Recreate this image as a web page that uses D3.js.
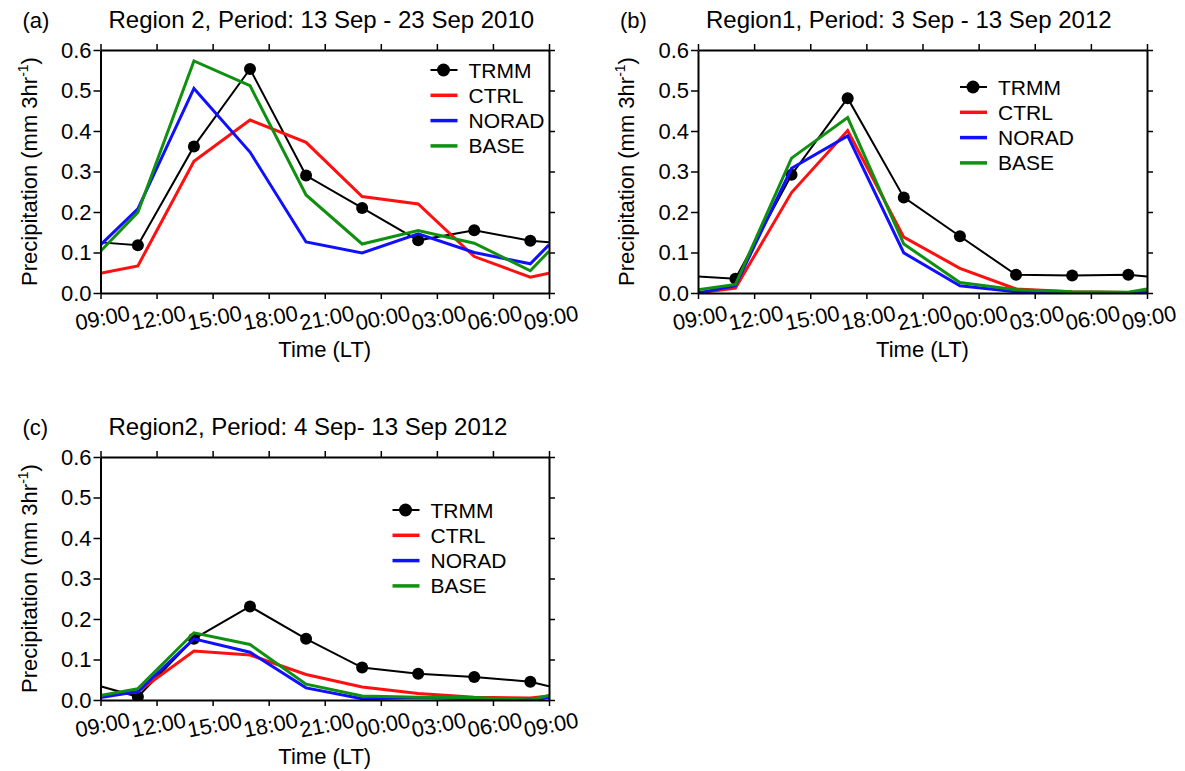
<!DOCTYPE html>
<html>
<head>
<meta charset="utf-8">
<script src="https://cdn.jsdelivr.net/npm/d3@7/dist/d3.min.js"></script>
<style>
  html, body { margin: 0; padding: 0; background: #fff; }
  svg { display: block; font-family: "Liberation Sans", Arial, sans-serif; }
</style>
</head>
<body>
<svg id="chart" width="1185" height="771"></svg>
<script>
// ---- data (hours after 09:00 LT) ----
const hours = [0, 2, 5, 8, 11, 14, 17, 20, 23, 24];
const tickHours = [0, 3, 6, 9, 12, 15, 18, 21, 24];
const tickLabels = ["09:00", "12:00", "15:00", "18:00", "21:00", "00:00", "03:00", "06:00", "09:00"];
const yTicks = [0, 0.1, 0.2, 0.3, 0.4, 0.5, 0.6];
const seriesNames = ["TRMM", "CTRL", "NORAD", "BASE"];
const seriesColors = ["#000000", "#ff1010", "#1010ff", "#109010"];

// Panel (a) Region 2, 13-23 Sep 2010
const trmmA  = [0.125, 0.118, 0.362, 0.553, 0.290, 0.210, 0.130, 0.155, 0.129, 0.125];
const ctrlA  = [0.049, 0.067, 0.325, 0.427, 0.372, 0.238, 0.220, 0.090, 0.039, 0.049];
const noradA = [0.119, 0.208, 0.505, 0.348, 0.126, 0.099, 0.146, 0.100, 0.072, 0.119];
const baseA  = [0.103, 0.199, 0.573, 0.512, 0.242, 0.121, 0.154, 0.123, 0.055, 0.103];

// Panel (b) Region1, 3-13 Sep 2012
const trmmB  = [0.041, 0.035, 0.292, 0.481, 0.236, 0.140, 0.045, 0.043, 0.045, 0.041];
const ctrlB  = [0.000, 0.012, 0.248, 0.401, 0.138, 0.061, 0.010, 0.003, 0.001, 0.004];
const noradB = [0.000, 0.018, 0.308, 0.388, 0.099, 0.018, 0.003, 0.000, 0.000, 0.000];
const baseB  = [0.008, 0.021, 0.333, 0.433, 0.121, 0.026, 0.008, 0.003, 0.002, 0.010];

// Panel (c) Region2, 4-13 Sep 2012
const trmmC  = [0.034, 0.008, 0.151, 0.231, 0.151, 0.080, 0.065, 0.057, 0.045, 0.034];
const ctrlC  = [0.010, 0.020, 0.121, 0.111, 0.063, 0.032, 0.016, 0.007, 0.005, 0.010];
const noradC = [0.006, 0.021, 0.151, 0.118, 0.030, 0.003, 0.006, 0.003, 0.000, 0.006];
const baseC  = [0.011, 0.028, 0.166, 0.137, 0.039, 0.010, 0.007, 0.006, 0.000, 0.011];

const panels = [
  { tag: "(a)", title: "Region 2, Period: 13 Sep - 23 Sep 2010", series: [trmmA, ctrlA, noradA, baseA],
    left: 100.5, top: 50, right: 549, bottom: 293, legX: 330, legY: 20 },
  { tag: "(b)", title: "Region1, Period: 3 Sep - 13 Sep 2012", series: [trmmB, ctrlB, noradB, baseB],
    left: 698, top: 50, right: 1147, bottom: 293, legX: 262, legY: 37 },
  { tag: "(c)", title: "Region2, Period: 4 Sep- 13 Sep 2012", series: [trmmC, ctrlC, noradC, baseC],
    left: 100.5, top: 457, right: 549, bottom: 700, legX: 292, legY: 53 }
];

const svg = d3.select("#chart");

panels.forEach((p, pi) => {
  const w = p.right - p.left, h = p.bottom - p.top;
  const g = svg.append("g").attr("transform", `translate(${p.left},${p.top})`);
  const x = d3.scaleLinear().domain([0, 24]).range([0, w]);
  const y = d3.scaleLinear().domain([0, 0.6]).range([h, 0]);

  const clipId = "clip" + pi;
  g.append("clipPath").attr("id", clipId).append("rect")
    .attr("x", 0).attr("y", -2).attr("width", w).attr("height", h + 2);

  const line = d3.line().x((d, i) => x(hours[i])).y(d => y(d));
  const plot = g.append("g").attr("clip-path", `url(#${clipId})`);

  p.series.forEach((vals, si) => {
    plot.append("path").datum(vals)
      .attr("d", line)
      .attr("fill", "none")
      .attr("stroke", seriesColors[si])
      .attr("stroke-width", si === 0 ? 2 : 3)
      .attr("stroke-linejoin", "miter");
    if (si === 0) {
      plot.selectAll(".dot").data(vals.slice(1, 9)).enter().append("circle")
        .attr("cx", (d, i) => x(hours[i + 1]))
        .attr("cy", d => y(d))
        .attr("r", 6)
        .attr("fill", "#000");
    }
  });

  // axes
  const axStyle = sel => {
    sel.select(".domain").attr("stroke", "#000").attr("stroke-width", 2);
    sel.selectAll(".tick line").attr("stroke", "#000").attr("stroke-width", 1.5);
  };
  g.append("g").attr("transform", `translate(0,${h})`)
    .call(d3.axisBottom(x).tickValues(tickHours).tickFormat("").tickSize(6).tickSizeOuter(0))
    .call(axStyle);
  g.append("g")
    .call(d3.axisTop(x).tickValues(tickHours).tickFormat("").tickSize(6).tickSizeOuter(0))
    .call(axStyle);
  g.append("g")
    .call(d3.axisLeft(y).tickValues(yTicks).tickFormat(d3.format(".1f")).tickSize(7).tickSizeOuter(0).tickPadding(2))
    .call(axStyle)
    .call(s => s.selectAll(".tick text").attr("font-size", 22).attr("fill", "#000")
      .attr("font-family", "Liberation Sans, Arial, sans-serif"));
  g.append("g").attr("transform", `translate(${w},0)`)
    .call(d3.axisRight(y).tickValues(yTicks).tickFormat("").tickSize(6).tickSizeOuter(0))
    .call(axStyle);

  // x tick labels (rotated)
  g.selectAll(".xlab").data(tickHours).enter().append("text")
    .attr("class", "xlab")
    .attr("transform", (d) => `translate(${x(d) + 2},${h + 25}) rotate(-11)`)
    .attr("text-anchor", "middle")
    .attr("dominant-baseline", "central")
    .attr("font-size", 22)
    .attr("fill", "#000")
    .text((d, i) => tickLabels[i]);

  // axis titles
  g.append("text")
    .attr("x", w / 2).attr("y", h + 64)
    .attr("text-anchor", "middle")
    .attr("font-size", 22)
    .text("Time (LT)");

  const yt = g.append("text")
    .attr("transform", `translate(-64,${h / 2}) rotate(-90)`)
    .attr("text-anchor", "middle")
    .attr("font-size", 22);
  yt.append("tspan").text("Precipitation (mm 3hr");
  yt.append("tspan").attr("font-size", 14).attr("dy", -9).text("-1");
  yt.append("tspan").attr("dy", 9).text(")");

  // panel tag & title
  g.append("text").attr("x", -78).attr("y", -22).attr("font-size", 22).text(p.tag);
  g.append("text").attr("x", 8).attr("y", -22).attr("font-size", 24).text(p.title);

  // legend
  const leg = g.append("g").attr("transform", `translate(${p.legX},${p.legY})`);
  seriesNames.forEach((name, si) => {
    const ly = si * 25.3;
    leg.append("line").attr("x1", 0).attr("x2", 27).attr("y1", ly).attr("y2", ly)
      .attr("stroke", seriesColors[si]).attr("stroke-width", si === 0 ? 2 : 3.5);
    if (si === 0) leg.append("circle").attr("cx", 13).attr("cy", ly).attr("r", 6.5).attr("fill", "#000");
    leg.append("text").attr("x", 38).attr("y", ly).attr("dominant-baseline", "central")
      .attr("font-size", 21).text(name);
  });
});
</script>
</body>
</html>
